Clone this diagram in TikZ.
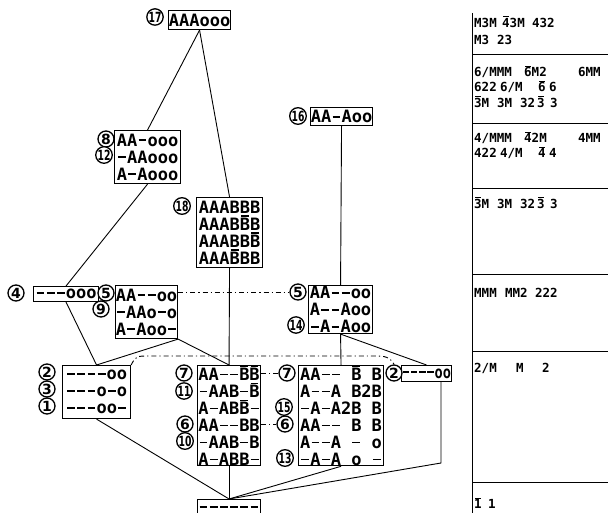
\documentclass[tikz,border=0pt]{standalone}
\usepackage{fontspec}
\usepackage{graphicx}
\newfontfamily\dmono{DejaVu Sans Mono}
\newfontfamily\numfont{DejaVu Sans}
\newcommand\ob[1]{\leavevmode\rlap{\hspace{0.07em}\raisebox{0.8em}{\rule{0.46em}{0.08em}}}#1}
\newcommand\D{\makebox[0.6em]{\rule[0.3em]{0.46em}{0.11em}}}
\newcommand\wbox[2]{\makebox[#1pt][l]{#2}}
\newcommand\nn[1]{\scalebox{0.66}[1]{#1}}
\begin{document}
\begin{tikzpicture}[x=1pt,y=-1pt,
  box/.style={draw,line width=1.1pt,inner sep=0pt,anchor=north west,font=\dmono\bfseries\fontsize{17}{17}\selectfont,align=left},
  num/.style={circle,draw,line width=1.3pt,minimum size=16pt,inner sep=0pt,fill=white,font=\numfont\bfseries\fontsize{14}{14}\selectfont},
  conn/.style={line width=0.9pt},
  dashdot/.style={line width=0.9pt,dash pattern=on 5pt off 3pt on 1.2pt off 3pt},
  tt/.style={anchor=west,inner sep=0pt,font=\dmono\bfseries\fontsize{12.5}{12.5}\selectfont},
  tabrule/.style={line width=1pt}]
\useasboundingbox (0,0) rectangle (608,513);
\clip (0,0) rectangle (608,513);

% ---- boxes ----
\node[box,minimum width=62pt,minimum height=19pt] (b17) at (168,10) {AAAooo};
\node[box,minimum width=62pt,minimum height=18pt] (b16) at (310,107) {AA\D Aoo};
\node[box,minimum width=66pt,minimum height=53pt] (b8) at (114,130) {AA\D ooo\\\D AAooo\\A\D Aooo};
\node[box,minimum width=66pt,minimum height=70pt] (b18) at (196,197) {AAABBB\\AAAB\ob{B}B\\AAABB\ob{B}\\AAA\ob{B}BB};
\node[box,minimum width=65pt,minimum height=15pt] (b4) at (33,286) {\D\D\D ooo};
\node[box,minimum width=62pt,minimum height=53pt] (b5) at (115,285) {AA\D\D oo\\\D AAo\D o\\A\D Aoo\D};
\node[box,minimum width=64pt,minimum height=48pt] (b5r) at (308,285) {AA\D\D oo\\A\D\D Aoo\\\D A\D Aoo};
\node[box,minimum width=68pt,minimum height=53pt] (b2l) at (62,365) {\D\D\D\D oo\\\D\D\D o\D o\\\D\D\D oo\D};
\node[box,minimum width=63pt,minimum height=100pt] (b7l) at (197,365) {AA\D\D\ob{B}\ob{B}\\\D AAB\D\ob{B}\\A\D AB\ob{B}\D\\AA\D\D BB\\\D AAB\D B\\A\D ABB\D};
\node[box,minimum width=85pt,minimum height=100pt] (b7r) at (298,365) {AA\D\D\ \ob{B}\ B\\A\D\D A\ B2B\\\D A\D A2B\ B\\AA\D\D\ B\ B\\A\D\D A\ \D\ o\\\D A\D A\ o\ \D};
\node[box,minimum width=50pt,minimum height=16pt] (b2r) at (401,365) {\scalebox{0.8}[1]{\D\D\D\D oo}};
\node[box,minimum width=63pt,minimum height=20pt] (bbot) at (197,499) {\D\D\D\D\D\D};

% ---- connectors ----
\coordinate (k2) at (441,463);
\draw[conn] (b17.south) -- (b8.north);
\draw[conn] (b17.south) -- (b18.north);
\draw[conn] (b8.south) -- (b4.north);
\draw[conn] (b16.south) -- (b5r.north);
\draw[conn] (b4.south) -- (b2l.north);
\draw[conn] (b5.south east) -- (b2l.north);
\draw[conn] (b5.south east) -- (b7l.north);
\draw[conn] (b18.south) -- (b7l.north);
\draw[conn] (b5r.south) -- (b7r.north);
\draw[conn] (b5r.south) -- (b2r.north);
\draw[conn] (b2l.south) -- (bbot.north);
\draw[conn] (b7l.south) -- (bbot.north);
\draw[conn] (b7r.south) -- (bbot.north);
\draw[conn] (b2r.south -| k2) -- (k2) -- (bbot.north);

% ---- circled numbers ----
\node[num] (c17) at (155,17) {\nn{17}};
\node[num] (c16) at (298,116) {\nn{16}};
\node[num] (c8) at (106,139) {8};
\node[num] (c12) at (104,155) {\nn{12}};
\node[num] (c18) at (182,206) {\nn{18}};
\node[num] (c4) at (16,293) {4};
\node[num] (c5) at (106,293) {5};
\node[num] (c9) at (101,309) {9};
\node[num] (c5r) at (298,292) {5};
\node[num] (c14) at (296,325) {\nn{14}};
\node[num] (c2l) at (47,372) {2};
\node[num] (c3) at (47,389) {3};
\node[num] (c1) at (47,406) {1};
\node[num] (c7l) at (184,373) {7};
\node[num] (c11) at (184,391) {\nn{11}};
\node[num] (c6l) at (185,424) {6};
\node[num] (c10) at (185,441) {\nn{10}};
\node[num] (c7r) at (287,373) {7};
\node[num] (c15) at (284,407) {\nn{15}};
\node[num] (c6r) at (285,424) {6};
\node[num] (c13) at (285,458) {\nn{13}};
\node[num] (c2r) at (394,373) {2};

% ---- dash-dot relations ----
\draw[dashdot] (b5.east |- c5r.west) -- (c5r.west);
\draw[dashdot] (b7l.east |- c7r.west) -- (c7r.west);
\draw[dashdot] (b7l.east |- c6r.west) -- (c6r.west);
\draw[dashdot] (b2l.north east) .. controls (136,356) .. (150,356) -- (378,356) .. controls (388,356) and (392,360) .. (c2r.north);

% ---- table ----
\draw[tabrule] (472,13) -- (472,513);
\foreach \yy in {55,124,189,275,351,482} \draw[tabrule] (472,\yy) -- (608,\yy);
\node[tt] (t1) at (474,22) {\wbox{28}{M3M}\wbox{30}{\ob{4}3M}432};
\node[tt] (t2) at (474,40) {\wbox{23}{M3}23};
\node[tt] (t3) at (474,72) {\wbox{50}{6/MMM}\wbox{54}{\ob{6}M2}6MM};
\node[tt] (t4) at (474,87) {\wbox{26}{622}\wbox{38}{6/M}\wbox{11}{\ob{6}}6};
\node[tt] (t5) at (474,102) {\wbox{23}{\ob{3}M}\wbox{23}{3M}\wbox{17}{32}\wbox{13}{\ob{3}}3};
\node[tt] (t6) at (474,138) {\wbox{50}{4/MMM}\wbox{54}{\ob{4}2M}4MM};
\node[tt] (t7) at (474,153) {\wbox{26}{422}\wbox{38}{4/M}\wbox{11}{\ob{4}}4};
\node[tt] (t8) at (474,203) {\wbox{23}{\ob{3}M}\wbox{23}{3M}\wbox{17}{32}\wbox{13}{\ob{3}}3};
\node[tt] (t9) at (474,293) {\wbox{31}{MMM}\wbox{30}{MM2}222};
\node[tt] (t10) at (474,368) {\wbox{42}{2/M}\wbox{26}{M}2};
\node[tt] (t11) at (474,503) {\wbox{14}{\ob{1}}1};
\end{tikzpicture}
\end{document}
